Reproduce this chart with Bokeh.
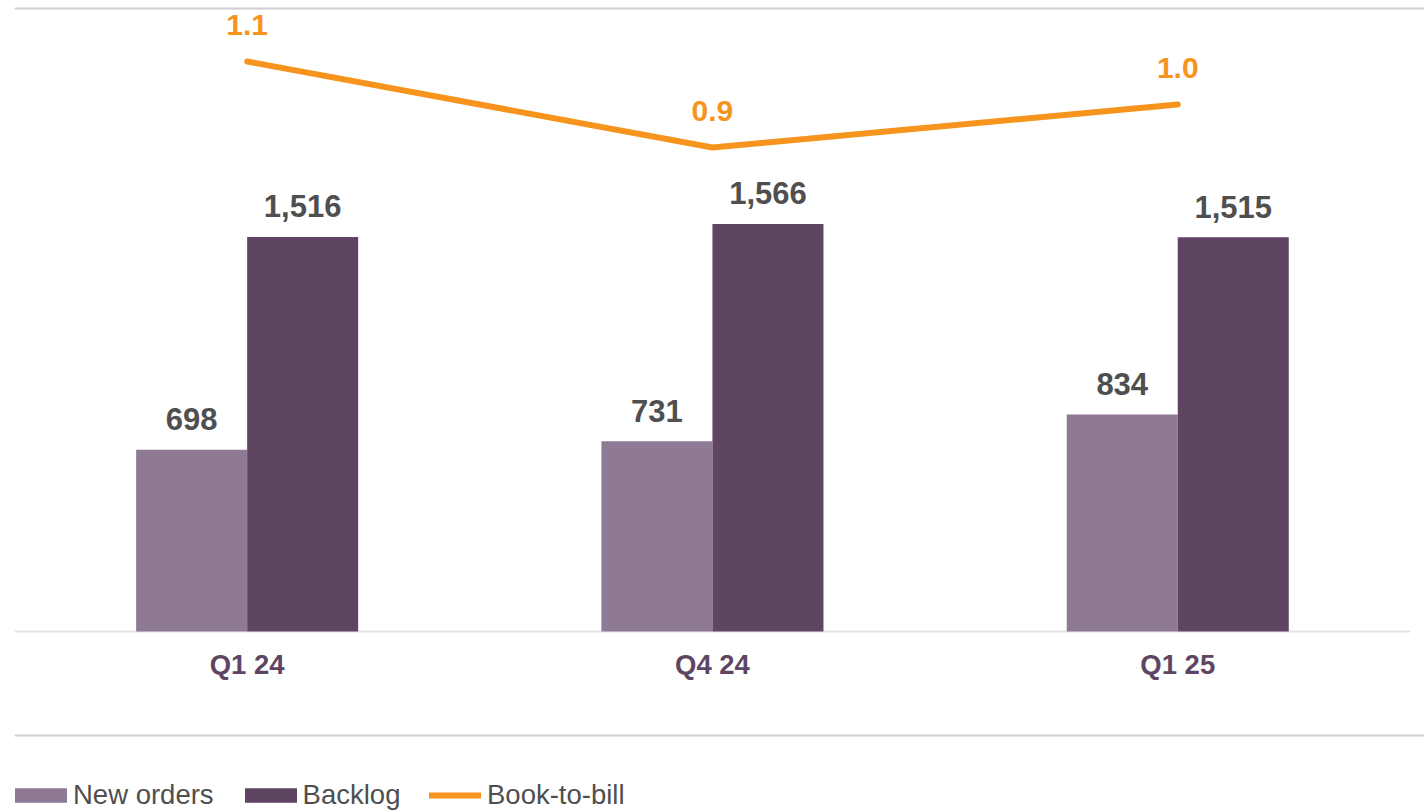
from bokeh.plotting import figure
from bokeh.models import ColumnDataSource, Range1d, Span, Legend, LegendItem
from bokeh.transform import dodge
from bokeh.core.properties import value
from bokeh.embed import file_html
from bokeh.resources import INLINE

# ---- data ----
categories = ["Q1 24", "Q4 24", "Q1 25"]
new_orders = [698, 731, 834]
backlog = [1516, 1566, 1515]
book_to_bill = [1.1, 0.9, 1.0]

# ---- styling ----
C_NEW = "#8e7a94"
C_BACK = "#5e4663"
C_BTB = "#f7941d"
C_LBL = "#4f4f4f"
C_CAT = "#5e4663"
C_RULE = "#d3cbd7"
C_BASE = "#e4e4e4"
FONT = "Liberation Sans"

W, H = 1424, 811
BAR_W = 0.2386
OFF = BAR_W / 2

src = ColumnDataSource(dict(
    x=list(range(len(categories))),
    cat=categories,
    new=new_orders,
    back=backlog,
    btb=book_to_bill,
    new_lbl=[f"{v:,}" for v in new_orders],
    back_lbl=[f"{v:,}" for v in backlog],
    btb_lbl=[f"{v:.1f}" for v in book_to_bill],
))

p = figure(width=W, height=H, output_backend="svg", toolbar_location=None,
           x_axis_type=None, y_axis_type=None,
           x_range=Range1d(-0.5, 2.5303), y_range=Range1d(-691.5, 2401.1),
           min_border_left=14, min_border_right=0, min_border_top=6, min_border_bottom=0)
p.extra_y_ranges = {"btb": Range1d(-0.6442, 1.2279)}
p.grid.visible = False
p.outline_line_color = None
p.background_fill_color = "white"
p.border_fill_color = "white"

# horizontal rules
p.add_layout(Span(location=2393.4, dimension="width", line_color=C_RULE, line_width=2))
p.add_layout(Span(location=-399.5, dimension="width", line_color=C_RULE, line_width=2))
p.segment(x0=-0.5, x1=2.5, y0=0, y1=0, line_color=C_BASE, line_width=2)

# bars
r_new = p.vbar(x=dodge("x", -OFF, range=p.x_range), top="new", bottom=0, width=BAR_W,
               fill_color=C_NEW, line_color=None, source=src)
r_back = p.vbar(x=dodge("x", OFF, range=p.x_range), top="back", bottom=0, width=BAR_W,
                fill_color=C_BACK, line_color=None, source=src)

# bar labels
for col, lbl, off in (("new", "new_lbl", -OFF), ("back", "back_lbl", OFF)):
    p.text(x=dodge("x", off, range=p.x_range), y=col, text=lbl, source=src,
           text_align="center", text_baseline="middle", y_offset=-30.5,
           text_font=value(FONT), text_font_style="bold", text_font_size="31px",
           text_color=C_LBL)

# book-to-bill line
r_line = p.line(x="x", y="btb", y_range_name="btb", source=src, line_color=C_BTB,
                line_width=6, line_cap="round", line_join="round")
p.text(x="x", y="btb", y_range_name="btb", text="btb_lbl", source=src,
       text_align="center", text_baseline="middle", y_offset=-36.5,
       text_font=value(FONT), text_font_style="bold", text_font_size="30px",
       text_color=C_BTB)

# category labels
p.text(x="x", y=0, text="cat", source=src, text_align="center",
       text_baseline="middle", y_offset=33,
       text_font=value(FONT), text_font_style="bold", text_font_size="27.5px",
       text_color=C_CAT)

common = dict(orientation="horizontal", padding=0, margin=0, border_line_color=None,
              background_fill_alpha=0, label_text_font=FONT,
              label_text_font_size="27.5px", label_text_color=C_LBL)

# bar legend (Bokeh insets area swatches by 10%, so enlarge the glyph box)
legend_bars = Legend(items=[
    LegendItem(label="New orders", renderers=[r_new]),
    LegendItem(label="Backlog", renderers=[r_back]),
], location=(-6, 0), glyph_width=65, glyph_height=18, label_standoff=0,
    spacing=24, **common)
p.add_layout(legend_bars)

legend_line = Legend(items=[
    LegendItem(label="Book-to-bill", renderers=[r_line]),
], location=(415, 0), glyph_width=52, glyph_height=14, label_standoff=6,
    spacing=0, **common)
p.add_layout(legend_line)

open("out.html", "w").write(file_html(p, INLINE))
